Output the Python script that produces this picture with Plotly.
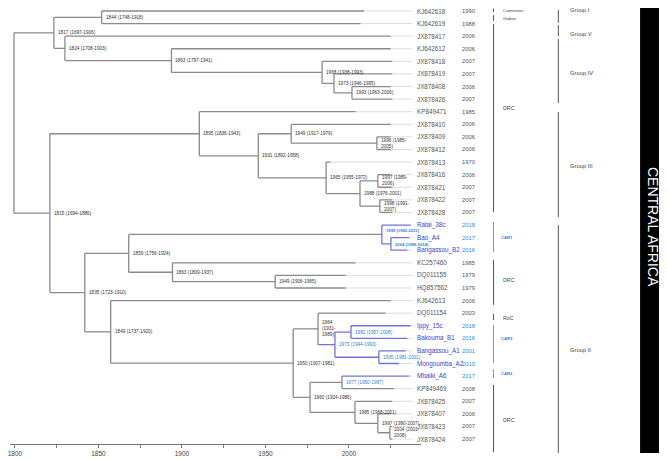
import plotly.graph_objects as go

# ---------------- data ----------------
tip_names = ["KJ642618", "KJ642619", "JX878417", "KJ642612", "JX878418", "JX878419",
             "JX878408", "JX878426", "KP849471", "JX878410", "JX878409", "JX878412",
             "JX878413", "JX878416", "JX878421", "JX878422", "JX878428", "Ratai_38c",
             "Bao_A4", "Bangassou_B2", "KC257460", "DQ011155", "HQ857562", "KJ642613",
             "DQ011154", "Ippy_15c", "Bakouma_B1", "Bangassou_A1", "Mongoumba_A2",
             "Mbaiki_A6", "KP849469", "JX878425", "JX878407", "JX878423", "JX878424"]
tip_years = ["1990", "1988", "2006", "2006", "2007", "2007", "2006", "2007", "1985",
             "2006", "2006", "2006", "1970", "2006", "2007", "2007", "2007", "2018",
             "2017", "2016", "1985", "1979", "1979", "2006", "2003", "2018", "2016",
             "2001", "2010", "2017", "2008", "2007", "2006", "2007", "2007"]
# position of the tip ends on the time axis (as drawn)
tip_x = [2009, 2007, 2025, 2025, 2026, 2026, 2025, 2026, 2004, 2025, 2025, 2025,
         1989, 2025, 2026, 2026, 2026, 2037, 2036, 2035, 2004, 1998, 1998, 2025,
         2022, 2037, 2035, 2034, 2030, 2036, 2027, 2026, 2025, 2026, 2026]
tip_parent = ["A1844", "A1844", "A1824", "A1863", "A1968", "A1973", "A1993", "A1993",
              "B1895", "B1949", "B1996", "B1996", "B1965", "B1997", "B1997", "B1998",
              "B1998", "C1999", "C2004", "C2004", "C1863", "C1949", "C1949", "D1849",
              "D1964", "D1982", "D1982", "D1995", "D1995", "D1977", "D1977", "D1985",
              "D1997", "D2004", "D2004"]

node_ids = ["root", "A1817", "A1844", "A1824", "A1863", "A1968", "A1973", "A1993",
            "B1815", "B1895", "B1931", "B1949", "B1996", "B1965", "B1988", "B1997", "B1998",
            "C1835", "C1859", "C1999", "C2004", "C1863", "C1949",
            "D1849", "D1950", "D1964", "D1973", "D1982", "D1995", "D1960", "D1977",
            "D1985", "D1997", "D2004"]
node_x = [1799.4, 1823.3, 1851.9, 1829.9, 1893.7, 1983.9, 1991.0, 2001.8,
          1820.9, 1910.4, 1945.7, 1965.4, 2016.7, 1986.3, 2006.6, 2017.3, 2018.5,
          1841.8, 1868.1, 2019.7, 2025.1, 1894.3, 1955.8,
          1857.3, 1966.6, 1981.5, 1991.6, 2001.2, 2017.9, 1976.7, 1995.8,
          2003.6, 2017.3, 2024.5]
node_parent = [None, "root", "A1817", "A1817", "A1824", "A1863", "A1968", "A1973",
               "root", "B1815", "B1895", "B1931", "B1949", "B1931", "B1965", "B1988", "B1988",
               "B1815", "C1835", "C1859", "C1999", "C1859", "C1863",
               "C1835", "D1849", "D1950", "D1964", "D1973", "D1973", "D1950", "D1960",
               "D1960", "D1985", "D1997"]
node_label = ["", "1817 (1697-1906)", "1844 (1748-1918)", "1824 (1708-1903)",
              "1863 (1797-1941)", "1968 (1938-1993)", "1973 (1946-1995)", "1993 (1963-2006)",
              "1815 (1694-1886)", "1895 (1836-1943)", "1931 (1892-1958)", "1949 (1917-1979)",
              "1996 (1985-<br>2005)", "1965 (1955-1972)", "1988 (1976-2001)",
              "1997 (1989-<br>2006)", "1998 (1991-<br>2007)",
              "1835 (1723-1910)", "1859 (1756-1924)", "1999 (1992-2011)", "2004 (1999-2014)",
              "1863 (1809-1937)", "1949 (1906-1965)",
              "1849 (1737-1920)", "1950 (1907-1981)", "1964<br>(1931-<br>1989)",
              "1973 (1944-1993)", "1982 (1957-2008)", "1995 (1981-2001)", "1960 (1924-1986)",
              "1977 (1950-1997)", "1985 (1968-2001)", "1997 (1990-2007)", "2004 (2001-<br>2008)"]

# geographic brackets: (label, first row, last row)
geo_labels = ["Cameroon", "Gabon", "DRC", "CAR1", "DRC", "RoC", "CAR3", "CAR2", "DRC"]
geo_start = [-0.2, 0.32, 1.03, 16.76, 19.78, 24.07, 24.94, 28.44, 29.7]
geo_end = [0.08, 0.79, 15.97, 19.14, 23.35, 24.54, 27.96, 29.15, 35.03]
geo_text_row = [-0.04, 0.62, 7.7, 18.0, 21.4, 24.4, 26.0, 28.8, 32.5]

group_labels = ["Group I", "Group V", "Group IV", "Group III", "Group II"]
group_start = [-0.08, 1.11, 2.22, 8.02, 17.0]
group_end = [0.95, 1.99, 7.31, 16.36, 35.1]
group_text_row = [-0.05, 1.83, 4.9, 12.3, 26.9]

axis_ticks = [1800, 1825, 1850, 1875, 1900, 1925, 1950, 1975, 2000, 2025]
axis_ticktext = ["1800", "", "1850", "", "1900", "", "1950", "", "2000", ""]

side_title = "CENTRAL AFRICA"

# ---------------- styles / geometry ----------------
OFF = 8                      # page body margin of the html page
W, H = 667 - OFF, 459 - OFF  # figure size so that it fills the window


def px(sx):                  # window x pixel -> paper x
    return (sx - OFF) / W


def py(sy):                  # window y pixel -> paper y
    return 1 - (sy - OFF) / H


GRAY = "#8a8a8a"
BLUE_LINE = "#7373d9"
BLUE_TIP = "#3c44c8"
BLUE_NODE = "#2f7fd8"
BLUE_YEAR = "#3388e0"
LIGHT = "#dedede"
blue_incoming = {"C2004", "Ratai_38c", "Bao_A4", "Bangassou_B2", "D1973", "D1982", "D1995",
                 "Ippy_15c", "Bakouma_B1", "Bangassou_A1", "Mongoumba_A2", "Mbaiki_A6"}
blue_vertical = {"C1999", "C2004", "D1973", "D1982", "D1995"}
blue_node_label = {"C1999", "C2004", "D1973", "D1982", "D1995", "D1977"}
small_bold_label = {"C1999": -3.5, "C2004": 0.5}
blue_tips = {"Ratai_38c", "Bao_A4", "Bangassou_B2", "Ippy_15c", "Bakouma_B1",
             "Bangassou_A1", "Mongoumba_A2", "Mbaiki_A6"}
blue_geo = {"CAR1", "CAR2", "CAR3"}
LABEL_END_X = 2038

# ---------------- tree layout ----------------
xpos = dict(zip(node_ids, node_x))
children = {n: [] for n in node_ids}
for n, p in zip(node_ids, node_parent):
    if p:
        children[p].append(n)
ypos = {}
for i, (t, x, p) in enumerate(zip(tip_names, tip_x, tip_parent)):
    xpos[t] = x
    ypos[t] = i
    children[p].append(t)


def get_y(n):
    if n in ypos:
        return ypos[n]
    ys = [get_y(c) for c in children[n]]
    ypos[n] = (min(ys) + max(ys)) / 2
    return ypos[n]


get_y("root")

gx, gy, bx, by = [], [], [], []
for n in node_ids:
    cys = [ypos[c] for c in children[n]]
    tx, ty = (bx, by) if n in blue_vertical else (gx, gy)
    tx += [xpos[n], xpos[n], None]
    ty += [min(cys), max(cys), None]
    for c in children[n]:
        tx2, ty2 = (bx, by) if c in blue_incoming else (gx, gy)
        tx2 += [xpos[n], xpos[c], None]
        ty2 += [ypos[c], ypos[c], None]

lx, ly = [], []
for t in tip_names:
    lx += [xpos[t], LABEL_END_X, None]
    ly += [ypos[t], ypos[t], None]

fig = go.Figure()
fig.add_trace(go.Scatter(x=lx, y=ly, mode="lines", line=dict(color=LIGHT, width=1),
                         hoverinfo="skip"))
fig.add_trace(go.Scatter(x=gx, y=gy, mode="lines", line=dict(color=GRAY, width=1.3),
                         hoverinfo="skip"))
fig.add_trace(go.Scatter(x=bx, y=by, mode="lines", line=dict(color=BLUE_LINE, width=1.3),
                         hoverinfo="skip"))

ann = []
# node labels
for n, lab in zip(node_ids, node_label):
    if not lab:
        continue
    if n in small_bold_label:
        text, size, ysh = "<b>%s</b>" % lab, 4.2, small_bold_label[n]
    else:
        text, size, ysh = lab, 4.7, 0
    ann.append(dict(x=xpos[n], y=ypos[n], xref="x", yref="y", text=text, showarrow=False,
                    xanchor="left", yanchor="middle", xshift=2, yshift=-ysh, align="left",
                    font=dict(size=size, color=BLUE_NODE if n in blue_node_label else "#333",
                              family="Arial")))
# tip labels and years
for t, yr in zip(tip_names, tip_years):
    blue = t in blue_tips
    ann.append(dict(x=px(414), y=ypos[t], xref="paper", yref="y", text=t, showarrow=False,
                    xanchor="left", yanchor="middle",
                    font=dict(size=6.3, color=BLUE_TIP if blue else "#555", family="Arial")))
    ann.append(dict(x=px(468), y=ypos[t], xref="paper", yref="y", text=yr, showarrow=False,
                    xanchor="center", yanchor="middle",
                    font=dict(size=5.8, color=BLUE_YEAR if blue else "#555", family="Arial")))

shapes = []
for lab, s, e, r in zip(geo_labels, geo_start, geo_end, geo_text_row):
    blue = lab in blue_geo
    shapes.append(dict(type="line", xref="paper", yref="y", x0=px(493), x1=px(493), y0=s, y1=e,
                       line=dict(color="#5fa0e8" if blue else "#555", width=1)))
    if lab in ("Cameroon", "Gabon"):
        fs = 4.4
    elif blue:
        fs = 4.2
    else:
        fs = 5.3
    ann.append(dict(x=px(498 if blue else 500), y=r, xref="paper", yref="y",
                    text=("<b>%s</b>" % lab) if blue else lab, showarrow=False,
                    xanchor="left", yanchor="middle",
                    font=dict(size=fs, color=BLUE_NODE if blue else "#444", family="Arial")))
for lab, s, e, r in zip(group_labels, group_start, group_end, group_text_row):
    shapes.append(dict(type="line", xref="paper", yref="y", x0=px(558), x1=px(558), y0=s, y1=e,
                       line=dict(color="#555", width=1)))
    ann.append(dict(x=px(568), y=r, xref="paper", yref="y", text=lab, showarrow=False,
                    xanchor="left", yanchor="middle",
                    font=dict(size=5.8, color="#444", family="Arial")))

shapes.append(dict(type="rect", xref="paper", yref="paper", x0=px(640), x1=1.02,
                   y0=py(453), y1=1.05, fillcolor="black", line=dict(width=0)))
ann.append(dict(x=px(653), y=py(227), xref="paper", yref="paper", text=side_title,
                showarrow=False, textangle=90, xanchor="center", yanchor="middle",
                font=dict(size=14, color="white", family="Arial")))

# x axis: window x = 13 + (year - 1800) * 1.675
x0_year = 1800 + (OFF - 13) / 1.675
x1_year = 1800 + (420 - 13) / 1.675
# y axis: window y = 11 + row * 12.59
y_top = (OFF - 11) / 12.59
y_bot = (459 - 11) / 12.59

fig.update_layout(
    width=W, height=H, margin=dict(l=0, r=0, t=0, b=0),
    paper_bgcolor="white", plot_bgcolor="white", showlegend=False,
    xaxis=dict(domain=[0, px(420)], range=[x0_year, x1_year], showgrid=False,
               zeroline=False, showline=True, linecolor="#777", linewidth=1,
               ticks="outside", ticklen=3, tickcolor="#777", tickvals=axis_ticks,
               ticktext=axis_ticktext, tickfont=dict(size=6.5, color="#444", family="Arial"),
               ticklabeloverflow="allow",
               anchor="free", position=py(444)),
    yaxis=dict(domain=[0, 1], range=[y_bot, y_top], visible=False),
    shapes=shapes, annotations=ann,
)

fig.write_html("out.html")
